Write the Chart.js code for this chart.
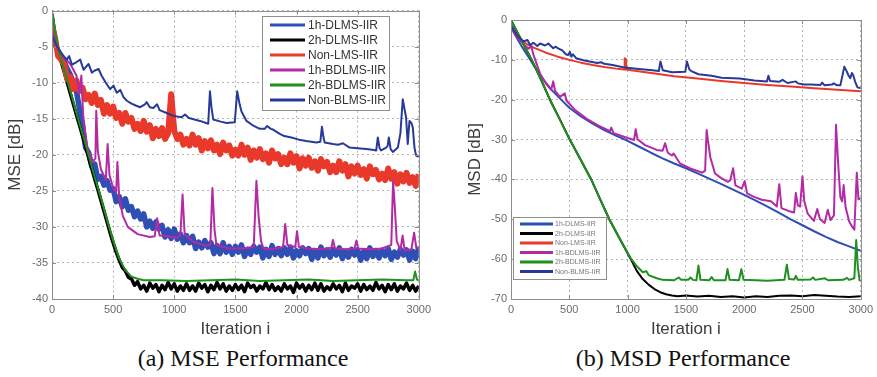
<!DOCTYPE html>
<html>
<head>
<meta charset="utf-8">
<script src="https://cdn.jsdelivr.net/npm/chart.js@4/dist/chart.umd.min.js"></script>
<style>
  body { margin: 0; background: #fff; width: 877px; height: 377px; overflow: hidden; position: relative; }
  canvas { position: absolute; top: 0; }
  #mse { left: 0; }
  #msd { left: 440px; }
  .cap { position: absolute; top: 345px; font: 24px "Liberation Serif", serif; color: #111; white-space: nowrap; transform: translateX(-50%); }
</style>
</head>
<body>
<canvas id="mse" width="435" height="340"></canvas>
<canvas id="msd" width="437" height="340"></canvas>
<div class="cap" style="left:243px">(a) MSE Performance</div>
<div class="cap" style="left:683px">(b) MSD Performance</div>
<script>
// legend names, same order in both panels
const seriesNames = ['1h-DLMS-IIR', '2h-DLMS-IIR', 'Non-LMS-IIR', '1h-BDLMS-IIR', '2h-BDLMS-IIR', 'Non-BLMS-IIR'];
const seriesColors = ['#2f4fb5', '#000000', '#e8392a', '#b42aa5', '#1f8f1f', '#283a98'];

// ---------- (a) MSE, dB ----------
const iterStep25 = [0,25,50,75,100,125,150,175,200,225, 250,275,300,325,350,375,400,425,450,475,
  500,525,550,575,600,625,650,675,700,725, 750,775,800,825,850,875,900,925,950,975,
  1000,1025,1050,1075,1100,1125,1150,1175,1200,1225, 1250,1275,1300,1325,1350,1375,1400,1425,1450,1475,
  1500,1525,1550,1575,1600,1625,1650,1675,1700,1725, 1750,1775,1800,1825,1850,1875,1900,1925,1950,1975,
  2000,2025,2050,2075,2100,2125,2150,2175,2200,2225, 2250,2275,2300,2325,2350,2375,2400,2425,2450,2475,
  2500,2525,2550,2575,2600,2625,2650,2675,2700,2725, 2750,2775,2800,2825,2850,2875,2900,2925,2950,2975, 3000];

const mse1hDlms = [-3.5,-4.6,-5.6,-6.4,-7.1,-8.1,-8.9,-10.1,-11.2,-13.6,
  -16.0,-19.0,-19.7,-21.6,-21.3,-23.4,-23.0,-24.2,-23.6,-24.9,
  -24.7,-26.5,-25.8,-27.2,-26.1,-27.7,-27.2,-28.6,-27.8,-28.9,
  -28.2,-30.0,-29.2,-30.2,-29.3,-30.3,-29.8,-31.4,-30.4,-31.6,
  -30.3,-31.7,-31.0,-32.2,-31.2,-32.2,-31.3,-33.0,-32.1,-32.9,
  -31.9,-32.8,-32.2,-33.7,-32.6,-33.7,-32.2,-33.5,-32.7,-33.8,
  -32.7,-33.5,-32.5,-34.1,-33.1,-33.8,-32.7,-33.5,-32.8,-34.3,
  -33.1,-34.1,-32.6,-33.8,-33.0,-34.0,-32.9,-33.8,-32.8,-34.3,
  -33.3,-34.0,-32.9,-33.7,-33.0,-34.5,-33.3,-34.3,-32.8,-34.0,
  -33.2,-34.2,-33.1,-33.9,-32.9,-34.4,-33.4,-34.2,-33.1,-33.9,
  -33.2,-34.6,-33.4,-34.4,-32.9,-34.1,-33.3,-34.3,-33.2,-34.0,
  -33.0,-34.5,-33.5,-34.2,-33.1,-33.9,-33.2,-34.6,-33.4,-34.4, -32.9];

const mse2hDlms = [-0.5,-3.5,-5.6,-7.1,-8.5,-10.0,-11.5,-13.0,-14.5,-15.9,
  -17.4,-18.9,-20.4,-21.9,-23.4,-24.8,-26.3,-27.8,-29.3,-30.8,
  -32.2,-33.5,-34.6,-35.6,-36.1,-37.0,-37.2,-38.1,-37.6,-38.6,
  -38.1,-38.9,-37.8,-38.5,-38.0,-39.0,-38.1,-38.7,-37.7,-38.6,
  -37.9,-38.9,-38.2,-38.8,-37.9,-38.8,-38.2,-38.9,-37.8,-38.5,
  -38.0,-39.0,-38.1,-38.7,-37.7,-38.6,-37.9,-38.9,-38.2,-38.8,
  -38.0,-38.7,-38.1,-39.0,-37.8,-38.4,-38.1,-38.9,-38.2,-38.6,
  -37.7,-38.7,-38.0,-38.8,-38.3,-38.9,-37.9,-38.6,-38.2,-39.1,
  -37.8,-38.5,-38.0,-38.9,-38.1,-38.7,-37.8,-38.8,-37.9,-38.9,
  -38.3,-38.7,-37.9,-38.6,-38.1,-39.0,-37.8,-38.8,-38.2,-38.5,
  -37.9,-38.9,-38.0,-38.7,-38.2,-38.8,-37.7,-38.6,-38.1,-39.0,
  -38.0,-38.7,-37.9,-38.9,-38.2,-38.6,-37.8,-38.8,-38.1,-38.9, -38.2];

const mseNonLms = [-2.0,-3.8,-6.3,-6.8,-7.5,-9.5,-9.2,-10.9,-9.7,-11.1,
  -10.7,-12.3,-11.7,-12.8,-11.5,-13.1,-12.4,-14.3,-13.1,-14.3,
  -13.3,-14.9,-14.2,-15.7,-14.2,-15.4,-14.9,-16.4,-15.7,-16.7,
  -15.3,-16.8,-15.9,-17.7,-16.4,-17.4,-16.3,-17.8,-17.0,-11.6,
  -16.7,-17.8,-17.2,-18.6,-17.8,-18.7,-17.2,-18.6,-17.7,-19.4,
  -18.1,-19.1,-18.0,-19.4,-18.6,-19.9,-18.3,-19.4,-18.7,-20.1,
  -19.3,-20.1,-18.6,-20.0,-19.0,-20.7,-19.4,-20.4,-19.2,-20.6,
  -19.8,-21.1,-19.4,-20.5,-19.9,-21.3,-20.4,-21.3,-19.8,-21.1,
  -20.2,-21.9,-20.5,-21.5,-20.4,-21.8,-20.9,-22.2,-20.6,-21.6,
  -21.0,-22.4,-21.5,-22.4,-20.9,-22.2,-21.3,-23.0,-21.6,-22.6,
  -21.5,-22.8,-22.0,-23.3,-21.6,-22.7,-22.1,-23.4,-22.6,-23.5,
  -21.9,-23.3,-22.4,-24.0,-22.7,-23.7,-22.5,-23.9,-23.1,-24.3, -22.7];

const mse1hBdlmsIter = [0,50,100,150,200,225,240,255,285,330, 355,362,375,400,440,455,470,500,525,535,
  550,580,620,700,800,840,860,880,950,1020, 1050,1068,1085,1150,1250,1295,1312,1330,1345,1450,
  1550,1650,1672,1690,1710,1730,1800,1890,1908,1925, 1990,2004,2020,2100,2200,2285,2298,2315,2400,2475,
  2490,2505,2600,2700,2775,2790,2805,2820,2850,2868, 2885,2940,2962,2980,3000];
const mse1hBdlms = [-2.6,-5.4,-6.5,-7.4,-9.0,-11.5,-9.0,-14.5,-18.8,-21.0, -20.5,-13.9,-19.5,-22.0,-23.5,-18.5,-22.8,-24.6,-25.2,-21.0,
  -26.0,-28.5,-30.0,-31.0,-31.4,-31.3,-28.8,-31.2,-31.3,-31.5, -31.2,-25.5,-31.0,-32.0,-32.6,-32.5,-24.6,-30.5,-32.5,-33.0,
  -33.0,-32.8,-23.6,-28.5,-32.0,-33.0,-33.1,-32.8,-29.6,-32.5, -32.8,-30.6,-32.8,-33.0,-33.1,-32.9,-31.8,-33.0,-33.1,-33.0,
  -31.9,-33.0,-33.1,-33.0,-32.5,-23.6,-27.5,-32.0,-33.2,-31.2, -33.3,-33.1,-30.8,-32.9,-32.8];

const mse2hBdlmsIter = [0,50,100,150,200,250,300,350,400,450, 500,550,600,650,700,750,
  900,1100,1300,1500,1700,1900,2100,2300,2500,2700,2900, 2955,2970,2985,3000];
const mse2hBdlms = [0,-5.3,-8.2,-11.2,-14.2,-17.1,-20.1,-23.1,-26.0,-29.0, -31.9,-34.4,-36.0,-36.9,-37.2,-37.4,
  -37.4,-37.5,-37.4,-37.3,-37.5,-37.4,-37.3,-37.5,-37.4,-37.3,-37.4, -37.4,-36.2,-37.3,-37.4];

const mseNonBlmsIter = [0,35,68,100,122,140,163,195,231,258, 299,326,350,381,405,440,476,503,530,558,
  585,612,650,690,721,760,775,800,829,860, 880,938,993,1060,1088,1120,1210,1278,1292,1305,
  1319,1380,1428,1495,1515,1535,1550,1591,1650,1700, 1740,1760,1790,1808,1863,1900,1958,2020,2080,2162,
  2195,2208,2220,2230,2298,2340,2380,2434,2500,2570, 2620,2652,2665,2680,2692,2733,2745,2755,2770,2788,
  2829,2850,2869,2885,2896,2910,2924,2940,2951,2965, 2978,3000];
const mseNonBlms = [-3.4,-4.8,-5.7,-6.4,-6.8,-6.3,-7.5,-7.2,-6.8,-8.2, -7.4,-8.6,-8.3,-8.1,-9.0,-10.0,-10.9,-10.4,-11.4,-11.0,
  -12.0,-12.5,-12.9,-13.2,-13.4,-13.0,-12.7,-13.4,-13.5,-13.0, -13.8,-14.2,-14.6,-14.8,-14.4,-14.9,-15.3,-15.7,-11.2,-13.5,
  -15.1,-15.4,-15.6,-15.5,-11.2,-13.0,-14.0,-15.3,-16.0,-16.4, -16.4,-16.0,-16.4,-16.5,-17.1,-17.4,-17.6,-17.9,-18.1,-18.3,
  -18.2,-16.1,-17.5,-18.3,-18.5,-18.6,-18.4,-19.0,-19.1,-19.2, -19.3,-19.4,-17.6,-19.1,-19.4,-19.0,-18.8,-17.6,-19.2,-19.6,
  -19.0,-17.0,-12.3,-13.8,-14.8,-18.5,-15.3,-15.6,-16.2,-19.0, -20.1,-20.3];

// ---------- (b) MSD, dB ----------
const msd1hDlmsIter = [0,50,100,150,200,250,300,350,400,500, 600,700,800,900,1000,1100,1200,1300,1400,1500,
  1600,1700,1800,1900,2000,2100,2200,2300,2400,2500, 2600,2700,2800,2900,3000];
const msd1hDlms = [-1.8,-4.5,-7.0,-9.3,-11.6,-13.8,-15.8,-17.6,-19.1,-22.0, -24.2,-26.0,-27.6,-29.0,-30.3,-31.8,-33.3,-34.7,-36.0,-37.2,
  -38.5,-39.8,-41.1,-42.5,-43.9,-45.3,-46.8,-48.4,-50.0,-51.5, -53.0,-54.4,-55.7,-56.8,-57.9];

const msd2hDlmsIter = [0,100,178,250,334,420,504,600,688,765, 843,935,1027,1080,1130,1180,1230,1280,1330,1380,
  1430,1500,1600,1700,1800,1900,2000,2100,2200,2300, 2400,2500,2600,2700,2800,2900,3000];
const msd2hDlms = [0,-5.7,-10,-14.5,-20,-25,-30,-35.2,-40,-45, -50,-55,-60.0,-63.0,-65.0,-66.4,-67.5,-68.3,-68.8,-69.1,
  -69.3,-69.1,-69.4,-69.2,-69.5,-69.3,-69.6,-69.3,-69.5,-69.2, -69.1,-69.3,-69.0,-69.2,-69.4,-69.5,-69.3];

const msdNonLmsIter = [0,50,100,150,200,300,400,500,600,700, 800,900,970,975,985,990,1000,1200,1400,1600,
  1800,2000,2200,2400,2600,2800,3000];
const msdNonLms = [-1.8,-4.2,-5.4,-6.3,-7.0,-8.2,-9.2,-10.0,-10.7,-11.3, -11.8,-12.2,-12.4,-9.6,-9.8,-12.5,-12.5,-13.3,-14.1,-14.7,
  -15.3,-15.8,-16.3,-16.7,-17.1,-17.5,-17.9];

const msd1hBdlmsIter = [0,50,100,150,175,190,250,300,345,362, 378,420,461,475,550,650,750,850,860,880,
  1000,1055,1070,1085,1150,1250,1300,1322,1345,1380, 1395,1450,1550,1640,1665,1678,1692,1710,1750,1800,
  1860,1880,1905,1925,1980,2004,2025,2080,2150,2230, 2280,2301,2320,2380,2428,2443,2460,2480,2500,2515,
  2545,2598,2627,2650,2690,2717,2740,2770,2788,2805, 2825,2840,2853,2870,2900,2925,2945,2966,2980,3000];
const msd1hBdlms = [-2.0,-4.3,-5.8,-7.2,-6.6,-8.5,-13.5,-16.0,-17.5,-15.4, -17.8,-19.3,-18.4,-20.2,-22.6,-24.8,-26.5,-27.9,-27.0,-28.4,
  -29.6,-30.1,-27.4,-29.9,-31.4,-32.6,-32.8,-30.9,-33.3,-34.0, -33.5,-36.0,-37.4,-38.3,-37.8,-27.6,-30.8,-34.5,-38.5,-39.6,
  -40.6,-40.2,-37.2,-41.5,-42.3,-40.4,-43.5,-44.3,-45.1,-45.5, -46.8,-41.2,-47.2,-47.9,-48.3,-43.4,-46.5,-46.8,-39.2,-45.4,
  -48.6,-50.4,-47.4,-50.0,-50.9,-47.6,-50.2,-49.0,-26.3,-35.5, -44.5,-45.5,-41.4,-47.0,-50.5,-51.8,-52.6,-38.3,-45.0,-44.7];

const msd2hBdlmsIter = [0,100,178,250,334,420,504,600,688,765, 843,935,1027,1080,1130,1160,1180,1250,1300,1400,
  1438,1460,1520,1540,1560,1590,1608,1625,1700,1721, 1740,1840,1857,1875,1955,1976,1995,2100,2200,2345,
  2366,2385,2430,2443,2460,2570,2590,2610,2692,2720, 2850,2882,2900,2945,2961,2975,2990,3000];
const msd2hBdlms = [0,-5.7,-10,-14.5,-20,-25,-30,-35.2,-40,-45, -50,-55,-59.8,-61.8,-63.3,-63.0,-64.0,-64.8,-65.2,-65.3,
  -64.6,-65.2,-65.2,-64.6,-65.2,-65.3,-61.6,-65.2,-65.3,-64.5, -65.3,-65.3,-62.5,-65.2,-65.3,-62.5,-65.2,-65.3,-65.4,-65.2,
  -61.4,-65.0,-65.1,-64.2,-65.2,-65.1,-64.6,-65.2,-64.8,-65.3, -65.2,-64.7,-65.2,-64.8,-55.2,-62.0,-65.3,-65.4];

const msdNonBlmsIter = [0,51,108,141,164,192,226,249,291,320, 362,380,405,440,470,490,505,518,532,560,
  620,674,740,773,800,872,920,971,1098,1211, 1268,1282,1302,1381,1495,1509,1530,1551,1608,1720,
  1806,1961,2089,2195,2208,2222,2300,2329,2372,2443, 2460,2513,2570,2655,2669,2690,2754,2768,2797,2825,
  2859,2880,2896,2910,2924,2935,2952,2972,3000];
const msdNonBlms = [-1.3,-3.8,-5.4,-5.0,-6.3,-5.7,-6.5,-5.9,-6.4,-5.9, -7.1,-6.7,-7.1,-7.6,-8.6,-8.8,-8.0,-9.2,-8.6,-9.6,
  -10.1,-10.4,-10.8,-10.6,-11.0,-11.3,-11.6,-11.9,-12.3,-12.6, -12.8,-10.4,-12.6,-13.1,-13.0,-10.4,-12.4,-12.9,-13.6,-14.0,
  -14.5,-14.7,-15.2,-15.4,-14.0,-15.3,-15.5,-15.0,-15.8,-15.4, -15.9,-16.2,-16.2,-16.3,-15.7,-16.4,-16.2,-15.9,-16.4,-16.4,
  -11.7,-12.9,-14.0,-14.6,-13.3,-13.8,-15.5,-16.9,-17.1];

const tickColor = '#6b6b6b';
const titleColor = '#3c3c3c';
const gridColor = '#b4b4b4';
const frameColor = '#8e8e8e';

const pts = (xs, ys) => xs.map((x, i) => ({ x: x, y: ys[i] }));

// later series sit on top, like the matlab plot order
function line(i, data, width) {
  return { label: seriesNames[i], data: data, borderColor: seriesColors[i], borderWidth: width,
           pointRadius: 0, fill: false, order: seriesNames.length - i };
}

// box round the plot, little inward ticks, and the boxed legend
const framePlugin = {
  id: 'frame',
  afterDraw(chart, args, opts) {
    const { ctx, chartArea: a, scales } = chart;
    ctx.save();
    ctx.strokeStyle = frameColor;
    ctx.lineWidth = 1;
    ctx.strokeRect(Math.round(a.left) + 0.5, Math.round(a.top) + 0.5, Math.round(a.right - a.left), Math.round(a.bottom - a.top));
    ctx.beginPath();
    scales.x.ticks.forEach(t => {
      const px = Math.round(scales.x.getPixelForValue(t.value)) + 0.5;
      ctx.moveTo(px, a.bottom); ctx.lineTo(px, a.bottom - 4);
      ctx.moveTo(px, a.top); ctx.lineTo(px, a.top + 4);
    });
    scales.y.ticks.forEach(t => {
      const py = Math.round(scales.y.getPixelForValue(t.value)) + 0.5;
      ctx.moveTo(a.left, py); ctx.lineTo(a.left + 4, py);
      ctx.moveTo(a.right, py); ctx.lineTo(a.right - 4, py);
    });
    ctx.stroke();

    const L = opts.box;
    ctx.fillStyle = '#fff';
    ctx.fillRect(L.x, L.y, L.w, L.h);
    ctx.strokeStyle = frameColor;
    ctx.strokeRect(L.x + 0.5, L.y + 0.5, L.w, L.h);
    ctx.font = L.font;
    ctx.textBaseline = 'middle';
    chart.data.datasets.forEach((ds, i) => {
      const y = L.row0 + i * L.rowH;
      ctx.strokeStyle = ds.borderColor;
      ctx.lineWidth = L.lw;
      ctx.beginPath(); ctx.moveTo(L.x0, y); ctx.lineTo(L.x1, y); ctx.stroke();
      ctx.fillStyle = L.color;
      ctx.fillText(ds.label, L.tx, y + 0.5);
    });
    ctx.restore();
  }
};

function buildChart(id, datasets, o) {
  const tickFont = { family: '"Liberation Sans", Arial, sans-serif', size: 11 };
  const titleFont = { family: '"Liberation Sans", Arial, sans-serif', size: 17 };
  return new Chart(document.getElementById(id), {
    type: 'line',
    data: { datasets: datasets },
    options: {
      responsive: false,
      animation: false,
      layout: { padding: { top: o.padTop, right: o.padRight, left: 0, bottom: 0 } },
      elements: { line: { tension: 0, borderJoinStyle: 'round' } },
      plugins: { legend: { display: false }, tooltip: { enabled: false }, frame: { box: o.box } },
      scales: {
        x: {
          type: 'linear', min: 0, max: 3000,
          afterFit: s => { s.height = 41; },
          ticks: { stepSize: 500, padding: 4, maxRotation: 0, color: tickColor, font: tickFont, callback: v => String(v) },
          grid: { color: gridColor, drawTicks: false },
          border: { display: false, dash: [2, 3] },
          title: { display: true, text: 'Iteration i', color: titleColor, font: titleFont, padding: 0 }
        },
        y: {
          min: o.yMin, max: 0,
          afterFit: s => { s.width = o.yWidth; },
          ticks: { stepSize: o.yStep, padding: 4, color: tickColor, font: tickFont, callback: v => String(v) },
          grid: { color: gridColor, drawTicks: false },
          border: { display: false, dash: [2, 3] },
          title: { display: true, text: o.yTitle, color: titleColor, font: titleFont, padding: { top: o.yTitlePad, bottom: 0 } }
        }
      }
    },
    plugins: [framePlugin]
  });
}

buildChart('mse', [
  line(0, pts(iterStep25, mse1hDlms), 5.5),
  line(1, pts(iterStep25, mse2hDlms), 3.5),
  line(2, pts(iterStep25, mseNonLms), 6),
  line(3, pts(mse1hBdlmsIter, mse1hBdlms), 2),
  line(4, pts(mse2hBdlmsIter, mse2hBdlms), 2),
  line(5, pts(mseNonBlmsIter, mseNonBlms), 2)
], {
  padTop: 9, padRight: 16, yWidth: 52, yMin: -40, yStep: 5, yTitle: 'MSE [dB]', yTitlePad: 5,
  box: { x: 262, y: 16, w: 127, h: 94, row0: 25, rowH: 15, x0: 270, x1: 305, tx: 308, lw: 3,
         font: '12px "Liberation Sans", Arial, sans-serif', color: '#333' }
});

buildChart('msd', [
  line(0, pts(msd1hDlmsIter, msd1hDlms), 2),
  line(1, pts(msd2hDlmsIter, msd2hDlms), 2),
  line(2, pts(msdNonLmsIter, msdNonLms), 2),
  line(3, pts(msd1hBdlmsIter, msd1hBdlms), 2),
  line(4, pts(msd2hBdlmsIter, msd2hBdlms), 2),
  line(5, pts(msdNonBlmsIter, msdNonBlms), 2)
], {
  padTop: 20, padRight: 13, yWidth: 71, yMin: -70, yStep: 10, yTitle: 'MSD [dB]', yTitlePad: 25,
  box: { x: 73, y: 217, w: 93, h: 62, row0: 224, rowH: 9.5, x0: 80, x1: 113, tx: 115, lw: 3,
         font: '7px "Liberation Sans", Arial, sans-serif', color: '#777' }
});
</script>
</body>
</html>
